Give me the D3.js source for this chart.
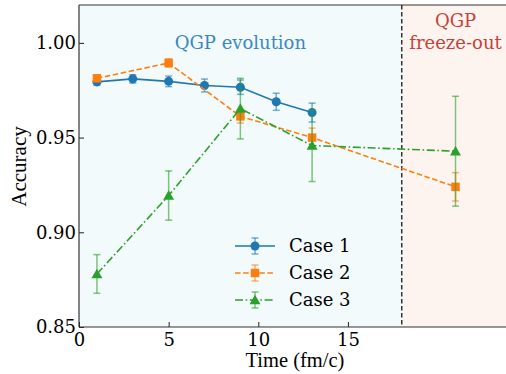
<!DOCTYPE html>
<html>
<head>
<meta charset="utf-8">
<script src="https://cdn.jsdelivr.net/npm/d3@7"></script>
<style>
	body { margin: 0; background: #fff; }
	svg { display: block; font-family: "DejaVu Serif", serif; }
</style>
</head>
<body>
<div id="chart"></div>
<script>
// data
const case1Time = [1, 3, 5, 7, 9, 11, 13]
const case1Acc = [0.9794, 0.9810, 0.9797, 0.9775, 0.9766, 0.9689, 0.9632]
const case1Err = [0.0018, 0.0022, 0.0028, 0.0034, 0.0038, 0.0045, 0.0050]

const case2Time = [1, 5, 9, 13, 21]
const case2Acc = [0.9813, 0.9894, 0.9612, 0.9500, 0.9240]
const case2Err = [0.0012, 0.0022, 0.0035, 0.0050, 0.0075]

const case3Time = [1, 5, 9, 13, 21]
const case3Acc = [0.8780, 0.9194, 0.9653, 0.9458, 0.9428]
const case3Err = [0.0102, 0.0130, 0.0160, 0.0190, 0.0290]

const xTicks = [0, 5, 10, 15]
const yTicks = [0.85, 0.90, 0.95, 1.00]
const freezeTime = 18

const dimensions = { width: 506, height: 374 }
const margin = { top: 5, left: 79, bottom: 47 }

const series = [
	{ name: 'Case 1', t: case1Time, v: case1Acc, e: case1Err, color: '#1f77b4', dash: null, marker: 'circle' },
	{ name: 'Case 2', t: case2Time, v: case2Acc, e: case2Err, color: '#ff7f0e', dash: '5.5,2.6', marker: 'square' },
	{ name: 'Case 3', t: case3Time, v: case3Acc, e: case3Err, color: '#2ca02c', dash: '8,2.6,1.6,2.6', marker: 'triangle' }
]

const x = d3.scaleLinear()
	.domain([0, 24])
	.range([margin.left, margin.left + 24 * 17.93])

const y = d3.scaleLinear()
	.domain([0.85, 1.02])
	.range([dimensions.height - margin.bottom, margin.top])

const svg = d3.select('#chart')
	.append('svg')
		.attr('width', dimensions.width)
		.attr('height', dimensions.height)

// shaded regions
svg.append('rect')
	.attr('x', x(0)).attr('y', y(1.02))
	.attr('width', x(freezeTime) - x(0))
	.attr('height', y(0.85) - y(1.02))
	.attr('fill', '#f3fafb')
svg.append('rect')
	.attr('x', x(freezeTime)).attr('y', y(1.02))
	.attr('width', x(24) - x(freezeTime))
	.attr('height', y(0.85) - y(1.02))
	.attr('fill', '#fef4ef')

svg.append('line')
	.attr('x1', x(freezeTime)).attr('x2', x(freezeTime))
	.attr('y1', y(1.02)).attr('y2', y(0.85))
	.attr('stroke', '#333').attr('stroke-width', 1.5)
	.attr('stroke-dasharray', '4.5,2.5')

// region labels
svg.append('text')
	.attr('x', x(9)).attr('y', 49)
	.attr('text-anchor', 'middle')
	.attr('font-size', 18)
	.attr('fill', '#3a87c1')
	.text('QGP evolution')

const fz = svg.append('text')
	.attr('text-anchor', 'middle')
	.attr('font-size', 18)
	.attr('fill', '#c6413a')
fz.append('tspan').attr('x', x(21)).attr('y', 27).text('QGP')
fz.append('tspan').attr('x', x(21)).attr('y', 49).text('freeze-out')

const line = d3.line()
	.x(d => x(d[0]))
	.y(d => y(d[1]))

const symbolFor = {
	circle: d3.symbol(d3.symbolCircle, 64),
	square: d3.symbol(d3.symbolSquare, 72),
	triangle: d3.symbol(d3.symbolTriangle, 52)
}

const drawErr = function(g, cx, cy0, cy1, color) {
	g.append('line')
		.attr('x1', cx).attr('x2', cx).attr('y1', cy0).attr('y2', cy1)
		.attr('stroke', color).attr('stroke-width', 1.5).attr('stroke-opacity', 0.6)
	;[cy0, cy1].forEach(cy => {
		g.append('line')
			.attr('x1', cx - 3.5).attr('x2', cx + 3.5).attr('y1', cy).attr('y2', cy)
			.attr('stroke', color).attr('stroke-width', 1.5).attr('stroke-opacity', 0.6)
	})
}

series.forEach(s => {
	const pts = s.t.map((t, i) => [t, s.v[i], s.e[i]])
	const g = svg.append('g')

	pts.forEach(p => drawErr(g, x(p[0]), y(p[1] - p[2]), y(p[1] + p[2]), s.color))

	g.append('path')
		.datum(pts)
		.attr('d', line)
		.attr('fill', 'none')
		.attr('stroke', s.color)
		.attr('stroke-width', 1.6)
		.attr('stroke-dasharray', s.dash)

	g.selectAll('path.mark')
		.data(pts)
		.enter().append('path')
			.attr('class', 'mark')
			.attr('d', symbolFor[s.marker])
			.attr('transform', d => `translate(${x(d[0])},${y(d[1]) + (s.marker === 'triangle' ? 1 : 0)})`)
			.attr('fill', s.color)
})

// axes frame
const gx = svg.append('g')
	.attr('transform', `translate(0,${y(0.85)})`)
	.call(d3.axisBottom(x).tickValues(d3.range(0, 25)).tickSize(-3).tickFormat(''))
gx.call(d3.axisBottom(x).tickValues(xTicks).tickSize(-5).tickPadding(6).tickFormat(d3.format('d')))
gx.selectAll('text').attr('font-size', 18).attr('font-family', '"DejaVu Serif", serif').attr('fill', '#000')

const gy = svg.append('g')
	.attr('transform', `translate(${margin.left},0)`)
	.call(d3.axisLeft(y).tickValues(d3.range(0.85, 1.0201, 0.01)).tickSize(-3).tickFormat(''))
gy.call(d3.axisLeft(y).tickValues(yTicks).tickSize(-5).tickPadding(3).tickFormat(d3.format('.2f')))
gy.selectAll('text').attr('font-size', 18).attr('font-family', '"DejaVu Serif", serif').attr('fill', '#000')

svg.selectAll('.domain').remove()
svg.selectAll('.tick line').attr('stroke', '#222').attr('stroke-width', 1)

svg.append('line')
	.attr('x1', x(0)).attr('x2', dimensions.width)
	.attr('y1', y(1.02)).attr('y2', y(1.02))
	.attr('stroke', '#333').attr('stroke-width', 1.2)
svg.append('line')
	.attr('x1', x(0)).attr('x2', dimensions.width)
	.attr('y1', y(0.85)).attr('y2', y(0.85))
	.attr('stroke', '#333').attr('stroke-width', 1.2)
svg.append('line')
	.attr('x1', x(0)).attr('x2', x(0))
	.attr('y1', y(1.02)).attr('y2', y(0.85))
	.attr('stroke', '#333').attr('stroke-width', 1.2)

// axis labels
svg.append('text')
	.attr('x', 295).attr('y', 367)
	.attr('text-anchor', 'middle')
	.attr('font-family', '"Liberation Serif", serif')
	.attr('font-size', 20.5)
	.text('Time (fm/c)')

svg.append('text')
	.attr('transform', `translate(26,166.5) rotate(-90)`)
	.attr('text-anchor', 'middle')
	.attr('font-family', '"Liberation Serif", serif')
	.attr('font-size', 21)
	.text('Accuracy')

// legend
const legend = svg.append('g')
series.forEach((s, i) => {
	const ly = 246 + i * 27
	const lg = legend.append('g')
	drawErr(lg, 255, ly - 8, ly + 8, s.color)
	lg.append('line')
		.attr('x1', 235).attr('x2', 275).attr('y1', ly).attr('y2', ly)
		.attr('stroke', s.color).attr('stroke-width', 1.6)
		.attr('stroke-dasharray', s.dash)
	lg.append('path')
		.attr('d', symbolFor[s.marker])
		.attr('transform', `translate(255,${ly + (s.marker === 'triangle' ? 1 : 0)})`)
		.attr('fill', s.color)
	lg.append('text')
		.attr('x', 289).attr('y', ly + 6)
		.attr('font-size', 18)
		.text(s.name)
})
</script>
</body>
</html>
